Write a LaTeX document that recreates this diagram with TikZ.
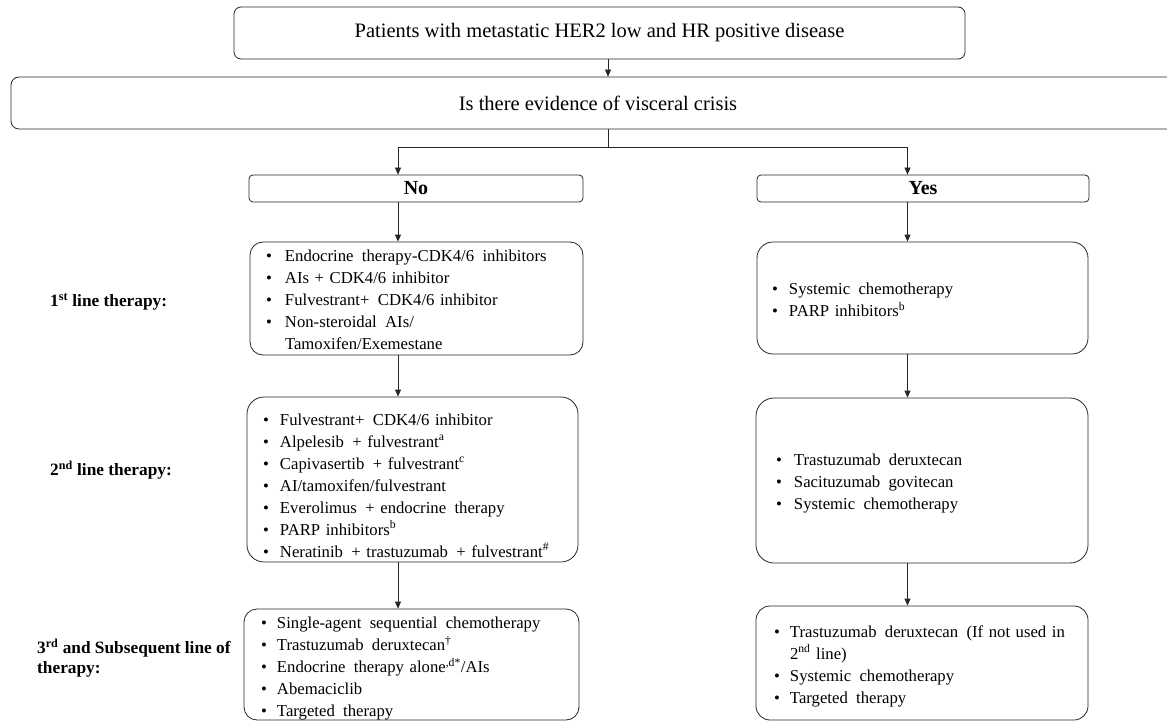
\documentclass[tikz,border=0pt]{standalone}
\usepackage{fontspec}
\setmainfont{Liberation Serif}
\usetikzlibrary{arrows.meta}
\newcommand\bl[2][17pt]{\makebox[#1][l]{\textbullet}#2}
\newcommand\shiftdown[2]{\raisebox{-#1}[\height][\depth]{\parbox{\linewidth}{#2}}}
\begin{document}
\begin{tikzpicture}[x=1pt,y=-1pt,
  box/.style={draw=black!85, line width=0.8pt, align=left, anchor=center},
  arr/.style={draw=black!85, line width=0.8pt, -{Triangle[length=7pt,width=6pt]}},
  plain/.style={draw=black!85, line width=0.8pt},
  body/.style={font=\fontsize{16.7}{22}\selectfont},
  head/.style={font=\fontsize{20.5}{24}\selectfont},
  yn/.style={font=\fontsize{20}{22}\selectfont\bfseries},
  lab/.style={font=\fontsize{17.3}{20}\selectfont\bfseries, inner sep=0pt, align=left}]
\useasboundingbox (0,0) rectangle (1167,722);
\clip (0,0) rectangle (1167,722);

% header boxes
\node[box, head, rounded corners=7pt, minimum width=731pt, minimum height=52pt] (top) at (599.5,33)
  {Patients with metastatic HER2 low and HR positive disease};
\node[box, head, rounded corners=8pt, minimum width=1174pt, minimum height=52pt] (crisis) at (598,103)
  {Is there evidence of visceral crisis};

% No / Yes
\node[box, yn, rounded corners=4pt, minimum width=334pt, minimum height=27pt] (no) at (416,188.5) {No};
\node[box, yn, rounded corners=4pt, minimum width=332pt, minimum height=27pt] (yes) at (923,188.5) {Yes};

% left column
\node[box, body, rounded corners=13pt, inner xsep=16pt, text width=301pt, minimum height=113pt] (l1) at (416.5,298.5)
  {\shiftdown{1pt}{\bl[19pt]{Endocrine\, therapy-CDK4/6\, inhibitors}\\
   \bl[19pt]{AIs + CDK4/6 inhibitor}\\
   \bl[19pt]{Fulvestrant+\, CDK4/6 inhibitor}\\
   \bl[19pt]{Non-steroidal\, AIs/}\\
   \hspace*{19pt}Tamoxifen/Exemestane}};
\node[box, body, rounded corners=17pt, inner xsep=16pt, text width=299pt, minimum height=165pt] (l2) at (412.5,479.5)
  {\shiftdown{6pt}{\bl{Fulvestrant+\, CDK4/6 inhibitor}\\
   \bl{Alpelesib\, + fulvestrant\textsuperscript{a}}\\
   \bl{Capivasertib\, + fulvestrant\textsuperscript{c}}\\
   \bl{AI/tamoxifen/fulvestrant}\\
   \bl{Everolimus\, + endocrine\, therapy}\\
   \bl{PARP inhibitors\textsuperscript{b}}\\
   \bl{Neratinib\, + trastuzumab\, + fulvestrant\textsuperscript{\#}}}};
\node[box, body, rounded corners=13pt, inner xsep=17pt, text width=301pt, minimum height=111pt] (l3) at (411.5,664.5)
  {\shiftdown{4pt}{\bl[16pt]{Single-agent\, sequential\, chemotherapy}\\
   \bl[16pt]{Trastuzumab\, deruxtecan\textsuperscript{\textdagger}}\\
   \bl[16pt]{Endocrine\, therapy alone\textsuperscript{,d*}/AIs}\\
   \bl[16pt]{Abemaciclib}\\
   \bl[16pt]{Targeted\, therapy}}};

% right column
\node[box, body, rounded corners=16pt, inner xsep=15pt, text width=301pt, minimum height=112pt] (r1) at (922.5,298)
  {\shiftdown{2pt}{\bl{Systemic\, chemotherapy}\\
   \bl{PARP inhibitors\textsuperscript{b}}}};
\node[box, body, rounded corners=18pt, inner xsep=20pt, text width=292pt, minimum height=165pt] (r2) at (922,480.5)
  {\shiftdown{3pt}{\bl[18pt]{Trastuzumab\, deruxtecan}\\
   \bl[18pt]{Sacituzumab\, govitecan}\\
   \bl[18pt]{Systemic\, chemotherapy}}};
\node[box, body, rounded corners=14pt, inner xsep=18pt, text width=296pt, minimum height=114pt] (r3) at (922,663)
  {\shiftdown{3pt}{\bl[16pt]{Trastuzumab\, deruxtecan\, (If not used in}\\
   \hspace*{16pt}2\textsuperscript{nd} line)\\
   \bl[16pt]{Systemic\, chemotherapy}\\
   \bl[16pt]{Targeted\, therapy}}};

% row labels
\node[lab, anchor=west] (lab1) at (50,302) {1\textsuperscript{st} line therapy:};
\node[lab, anchor=west] (lab2) at (50,470) {2\textsuperscript{nd} line therapy:};
\node[lab, anchor=west] (lab3) at (37,658) {3\textsuperscript{rd} and Subsequent line of\\therapy:};

% connectors
\coordinate (lx) at (398,0);
\coordinate (rx) at (907.5,0);
\coordinate (split) at (608,147);
\draw[arr] ([xshift=8.5pt]top.south) -- ([xshift=8.5pt]top.south |- crisis.north);
\draw[plain] (crisis.south -| split) -- (split);
\draw[arr] (split) -| (no.north -| lx);
\draw[arr] (split) -| (yes.north -| rx);
\draw[arr] (no.south -| lx) -- (l1.north -| lx);
\draw[arr] (l1.south -| lx) -- (l2.north -| lx);
\draw[arr] (l2.south -| lx) -- (l3.north -| lx);
\draw[arr] (yes.south -| rx) -- (r1.north -| rx);
\draw[arr] (r1.south -| rx) -- (r2.north -| rx);
\draw[arr] (r2.south -| rx) -- (r3.north -| rx);
\end{tikzpicture}
\end{document}
